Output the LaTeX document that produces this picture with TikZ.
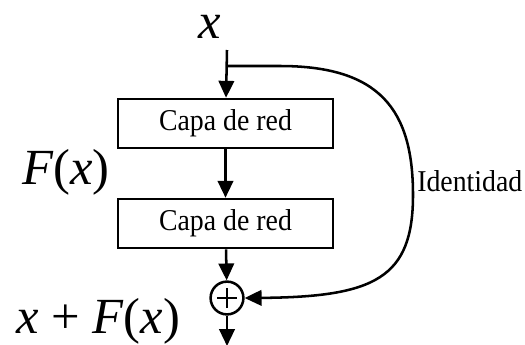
\documentclass[tikz,border=0pt]{standalone}
\usepackage{fontspec}
\setmainfont{Liberation Serif}
\newfontfamily\labelfont[FakeStretch=0.92]{Liberation Serif}
\usepackage{tikz}
\usetikzlibrary{positioning, arrows.meta}

\begin{document}
\begin{tikzpicture}[
x=0.025cm, y=-0.025cm,
layer/.style={rectangle, draw, line width=1.8pt, minimum width=5.375cm, minimum height=1.225cm, align=center, font=\labelfont\fontsize{21.5}{24}\selectfont},
sumnode/.style={circle, draw, line width=1.8pt, minimum size=0.82cm, inner sep=0pt,
  path picture={\draw[line width=1.5pt] ([xshift=-0.25cm]path picture bounding box.center) -- ([xshift=0.25cm]path picture bounding box.center);
  \draw[line width=1.5pt] ([yshift=-0.25cm]path picture bounding box.center) -- ([yshift=0.25cm]path picture bounding box.center);}},
bigtext/.style={anchor=base, inner sep=0pt, text height=0.7em, text depth=0.15em, font=\fontsize{36}{40}\selectfont},
flow/.style={-{Triangle[length=12pt, width=11pt]}, line width=1.8pt},
]
\useasboundingbox (0,0) rectangle (525,344);

% Steps
\node[bigtext] (xin) at (210,38) {\textit{x}};
\coordinate (start) at (227,50);
\coordinate (split) at (227,66);
\node[layer] (layer1) at (225.5,123.5) {Capa de red};
\node[layer] (layer2) at (225.5,223.5) {Capa de red};
\node[sumnode] (sum) at (227,298) {};
\coordinate (out) at (227,346);

% Labels
\node[bigtext] (fx) at (66,184) {\textit{F}(\textit{x})};
\node[bigtext] (sumlabel) at (98,333) {\textit{x} + \textit{F}(\textit{x})};
\node[anchor=base west, inner sep=0pt, font=\labelfont\fontsize{21.5}{24}\selectfont] (ident) at (417,191) {Identidad};

% Arrows
\draw[flow] (start) -- (layer1);
\draw[flow] (layer1) -- (layer2);
\draw[flow] (layer2) -- (sum);
\draw[flow] (sum) -- (out);
\draw[flow] (split) -- (280,66) .. controls (380,66) and (413,110) .. (413,195)
  .. controls (413,278) and (375,297) .. (sum.east);

\end{tikzpicture}
\end{document}
